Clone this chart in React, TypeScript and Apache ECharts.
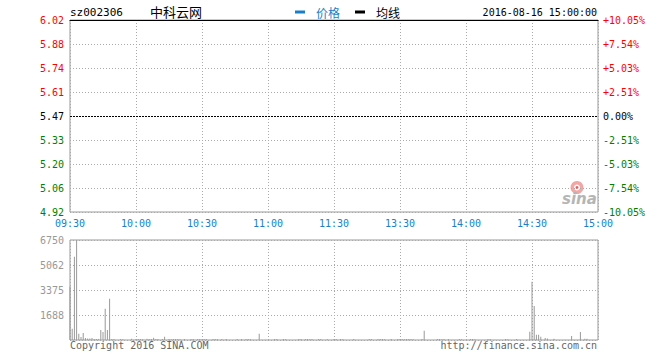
import React, { useEffect, useRef } from "react";
import * as echarts from "echarts";

const stockCode = "sz002306";
const stockName = "中科云网";
const dateTime = "2016-08-16 15:00:00";
const prevClose = 5.47;
const pctMin = -10.05;
const pctMax = 10.05;
const pctStep = 2.5125;

const priceTickLabels = ["4.92", "5.06", "5.20", "5.33", "5.47", "5.61", "5.74", "5.88", "6.02"];
const pctTickLabels = ["-10.05%", "-7.54%", "-5.03%", "-2.51%", "0.00%", "+2.51%", "+5.03%", "+7.54%", "+10.05%"];
const timeTickLabels = ["09:30", "10:00", "10:30", "11:00", "11:30", "13:30", "14:00", "14:30", "15:00"];
const volTickLabels = ["", "1688", "3375", "5062", "6750"];
const volMax = 6750;
const volStep = 1687.5;

// per-minute volume (241 minutes: 09:30-11:30, 13:01-15:00)
const volumes = [
  3600, 760, 5620, 6750, 420, 200, 470, 135, 100, 100,
  135, 60, 60, 60, 675, 540, 2115, 675, 2790, 70,
  60, 0, 0, 70, 50, 0, 0, 0, 80, 0,
  70, 60, 70, 50, 0, 80, 60, 70, 155, 60,
  70, 0, 60, 220, 0, 70, 50, 60, 70, 60,
  50, 0, 70, 0, 0, 60, 70, 0, 60, 70,
  50, 60, 70, 0, 0, 60, 70, 50, 0, 60,
  0, 70, 0, 0, 0, 0, 60, 0, 70, 0,
  60, 70, 50, 0, 0, 0, 425, 0, 0, 0,
  0, 0, 0, 60, 70, 0, 0, 60, 50, 0,
  0, 0, 0, 0, 70, 60, 0, 60, 70, 50,
  60, 0, 0, 70, 60, 0, 0, 50, 0, 0,
  60, 70, 0, 60, 50, 0, 0, 0, 0, 60,
  0, 0, 0, 0, 0, 0, 70, 60, 0, 0,
  60, 70, 60, 50, 0, 0, 60, 0, 0, 70,
  60, 70, 50, 60, 70, 60, 50, 0, 0, 0,
  60, 620, 0, 0, 0, 0, 0, 70, 60, 50,
  60, 0, 70, 0, 0, 0, 0, 60, 50, 0,
  0, 0, 70, 60, 50, 0, 0, 0, 0, 0,
  60, 70, 0, 0, 0, 0, 0, 0, 60, 50,
  0, 0, 0, 60, 0, 0, 0, 0, 0, 560,
  3935, 2295, 360, 360, 220, 0, 135, 100, 0, 0,
  80, 0, 0, 0, 0, 0, 0, 0, 270, 0,
  0, 0, 540, 0, 80, 80, 0, 0, 0, 0,
  0,
];

function buildMinutes(): string[] {
  const out: string[] = [];
  const pad = (n: number) => (n < 10 ? "0" + n : "" + n);
  for (let m = 9 * 60 + 30; m <= 11 * 60 + 30; m++) out.push(pad(Math.floor(m / 60)) + ":" + pad(m % 60));
  for (let m = 13 * 60 + 1; m <= 15 * 60; m++) out.push(pad(Math.floor(m / 60)) + ":" + pad(m % 60));
  return out;
}

const MONO = "DejaVu Sans Mono";
const CJK = "Noto Sans CJK SC";
const BLUE = "#1a7fc6";
const RED = "#ff0000";
const GREEN = "#008000";
const GRID_LINE = "#aaaaaa";
const BORDER = "#999999";

export default function App() {
  const ref = useRef<HTMLDivElement>(null);
  useEffect(() => {
    if (!ref.current) return;
    const chart = echarts.init(ref.current, null, { renderer: "svg" });
    const minutes = buildMinutes();
    const idx = (v: number) => Math.round((v - pctMin) / pctStep);
    const colorFor = (i: number) => (i > 4 ? RED : i < 4 ? GREEN : "#000");
    const every30 = (i: number) => i % 30 === 0;
    const option: any = {
      animation: false,
      backgroundColor: "#fff",
      title: [
        { text: stockCode, left: 70, top: 7, padding: 0, textStyle: { fontFamily: MONO, fontSize: 11, fontWeight: "normal", color: "#000" } },
        { text: stockName, left: 150, top: 5, padding: 0, textStyle: { fontFamily: CJK, fontSize: 13, fontWeight: "normal", color: "#000" } },
        { text: dateTime, right: 63, top: 7, padding: 0, textStyle: { fontFamily: MONO, fontSize: 10, fontWeight: "normal", color: "#000" } },
        { text: "Copyright 2016 SINA.COM", left: 70, top: 340, padding: 0, textStyle: { fontFamily: MONO, fontSize: 10, fontWeight: "normal", color: "#666" } },
        { text: "http://finance.sina.com.cn", right: 63, top: 340, padding: 0, textStyle: { fontFamily: MONO, fontSize: 10, fontWeight: "normal", color: "#666" } },
      ],
      legend: {
        left: 295,
        top: 6,
        padding: 0,
        icon: "rect",
        itemWidth: 10,
        itemHeight: 3,
        itemGap: 15,
        textStyle: { fontFamily: CJK, fontSize: 12, padding: [0, 0, 0, 6] },
        data: [
          { name: "价格", textStyle: { color: BLUE } },
          { name: "均线", textStyle: { color: "#000" } },
        ],
      },
      grid: [
        { left: 70, top: 20, width: 528, height: 192, show: true, borderColor: BORDER, borderWidth: 1 },
        { left: 70, top: 240, width: 528, height: 100, show: true, borderColor: BORDER, borderWidth: 1 },
      ],
      xAxis: [
        {
          type: "category", gridIndex: 0, data: minutes, boundaryGap: false,
          axisLine: { show: false, onZero: false }, axisTick: { show: false },
          axisLabel: {
            interval: (i: number) => every30(i), margin: 6,
            formatter: (_v: string, i: number) => timeTickLabels[i / 30] ?? "",
            color: BLUE, fontFamily: MONO, fontSize: 10,
          },
          splitLine: { show: true, interval: (i: number) => every30(i), lineStyle: { color: GRID_LINE, type: [1, 2], width: 1 } },
        },
        {
          type: "category", gridIndex: 1, data: minutes, boundaryGap: false,
          axisLine: { show: false, onZero: false }, axisTick: { show: false }, axisLabel: { show: false },
          splitLine: { show: true, interval: (i: number) => every30(i), lineStyle: { color: GRID_LINE, type: [1, 2], width: 1 } },
        },
        {
          type: "category", gridIndex: 0, data: minutes, position: "top", z: 5,
          axisLine: { show: true, onZero: false, lineStyle: { color: "#000", width: 1 } },
          axisTick: { show: false }, axisLabel: { show: false }, splitLine: { show: false },
        },
      ],
      yAxis: [
        {
          type: "value", gridIndex: 0, min: pctMin, max: pctMax, interval: pctStep,
          axisLine: { show: false }, axisTick: { show: false },
          axisLabel: {
            margin: 6, fontFamily: MONO, fontSize: 10,
            formatter: (v: number) => priceTickLabels[idx(v)] ?? "",
            color: (v: number) => colorFor(idx(v)),
          },
          splitLine: { show: true, lineStyle: { color: GRID_LINE, type: [1, 2], width: 1 } },
        },
        {
          type: "value", gridIndex: 0, position: "right", min: pctMin, max: pctMax, interval: pctStep,
          axisLine: { show: false }, axisTick: { show: false },
          axisLabel: {
            margin: 5, fontFamily: MONO, fontSize: 10,
            formatter: (v: number) => pctTickLabels[idx(v)] ?? "",
            color: (v: number) => colorFor(idx(v)),
          },
          splitLine: { show: false },
        },
        {
          type: "value", gridIndex: 1, min: 0, max: volMax, interval: volStep,
          axisLine: { show: false }, axisTick: { show: false },
          axisLabel: {
            margin: 6, fontFamily: MONO, fontSize: 10, color: "#999",
            formatter: (v: number) => volTickLabels[Math.round(v / volStep)] ?? "",
          },
          splitLine: { show: true, lineStyle: { color: GRID_LINE, type: [1, 2], width: 1 } },
        },
      ],
      series: [
        {
          name: "价格", type: "line", xAxisIndex: 0, yAxisIndex: 0, data: [], showSymbol: false,
          itemStyle: { color: BLUE }, lineStyle: { color: BLUE, width: 1 },
          markLine: {
            silent: true, symbol: "none", label: { show: false },
            lineStyle: { color: "#000", type: [2, 1], width: 1 },
            emphasis: { disabled: true },
            data: [{ yAxis: ((prevClose - prevClose) / prevClose) * 100 }],
          },
        },
        {
          name: "均线", type: "line", xAxisIndex: 0, yAxisIndex: 0, data: [], showSymbol: false,
          itemStyle: { color: "#000" }, lineStyle: { color: "#000", width: 1 },
        },
        {
          name: "成交量", type: "bar", xAxisIndex: 1, yAxisIndex: 2, data: volumes, barWidth: 1,
          itemStyle: { color: "#999" },
        },
      ],
      graphic: [
        {
          type: "group", left: 562, top: 181, silent: true,
          children: [
            { type: "ring", shape: { cx: 15, cy: 7, r: 6.5, r0: 3 }, style: { fill: "#f2a7a7" } },
            { type: "circle", shape: { cx: 15, cy: 7, r: 1.5 }, style: { fill: "#e06060" } },
            { type: "text", x: 0, y: 11, style: { text: "sina", fontFamily: "DejaVu Sans", fontSize: 15, fontStyle: "italic", fontWeight: "bold", fill: "#b5b5b5" } },
          ],
        },
      ],
    };
    chart.setOption(option);
    return () => chart.dispose();
  }, []);
  return <div ref={ref} style={{ position: "absolute", left: 0, top: 0, width: 660, height: 360 }} />;
}
